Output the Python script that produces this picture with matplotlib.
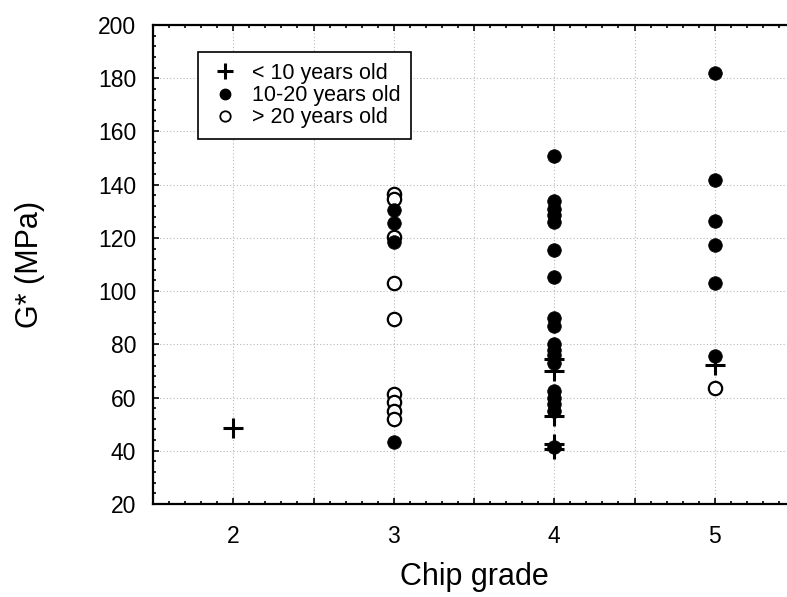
import matplotlib.pyplot as plt
from matplotlib.lines import Line2D
from matplotlib.ticker import FixedLocator, MultipleLocator, FuncFormatter

plt.rcParams['font.family'] = ['Liberation Sans', 'DejaVu Sans']

# G* (MPa) per chip grade, split by age of the seal
young_grade = [2, 4, 4, 4, 4, 4, 5]
young_g = [48.7, 74.5, 70.0, 53.0, 42.5, 40.5, 72.4]

mid_grade = [3, 3, 3, 3,
             4, 4, 4, 4, 4, 4, 4, 4, 4, 4, 4, 4, 4, 4, 4, 4, 4, 4,
             5, 5, 5, 5, 5, 5]
mid_g = [130.5, 125.5, 118.6, 43.2,
         150.6, 133.7, 131.0, 128.5, 126.0, 115.6, 105.2, 89.8, 87.0,
         80.0, 78.0, 76.0, 73.0, 62.5, 60.0, 57.5, 55.0, 41.5,
         181.8, 141.9, 126.5, 117.3, 103.0, 75.8]

old_grade = [3, 3, 3, 3, 3, 3, 3, 3, 3, 5]
old_g = [136.5, 134.5, 120.2, 103.0, 89.5, 61.5, 58.2, 55.0, 52.0, 63.5]

labels = ['< 10 years old', '10-20 years old', '> 20 years old']

fig = plt.figure(figsize=(7.87, 5.97), dpi=100)
ax = fig.add_axes([153 / 787, 93 / 597, 642 / 787, 479 / 597])

ax.plot(old_grade, old_g, 'o', ms=9.6, mfc='white', mec='black', mew=1.6, ls='none', zorder=3)
ax.plot(mid_grade, mid_g, 'o', ms=9.8, mfc='black', mec='black', mew=0.5, ls='none', zorder=4)
ax.plot(young_grade, young_g, '+', ms=14.5, mec='black', mew=2.2, ls='none', zorder=5)

ax.set_xlim(1.5, 5.5)
ax.set_ylim(20, 200)

ax.xaxis.set_major_locator(FixedLocator([1.5 + 0.5 * i for i in range(9)]))
ax.xaxis.set_minor_locator(MultipleLocator(0.1))
ax.xaxis.set_major_formatter(FuncFormatter(lambda v, p: f"{v:.0f}" if abs(v - round(v)) < 1e-6 else ""))
ax.yaxis.set_major_locator(MultipleLocator(20))
ax.yaxis.set_minor_locator(MultipleLocator(4))

ax.tick_params(which='both', direction='in', top=True, right=True, width=1.2, colors='black')
ax.tick_params(which='major', length=4.5, labelsize=16.5)
ax.tick_params(axis='x', which='major', pad=15)
ax.tick_params(axis='y', which='major', pad=12)
ax.tick_params(which='minor', length=2.5)
for s in ax.spines.values():
    s.set_linewidth(1.6)

ax.grid(True, which='major', ls=(0, (1, 2)), color='#b8b8b8', lw=0.8)
ax.set_axisbelow(True)

ax.set_xlabel('Chip grade', fontsize=22, labelpad=10)
ax.set_ylabel('G* (MPa)', fontsize=22, labelpad=38)

handles = [
    Line2D([], [], marker='+', ls='none', ms=12, mec='black', mew=2.2),
    Line2D([], [], marker='o', ls='none', ms=7.5, mfc='black', mec='black'),
    Line2D([], [], marker='o', ls='none', ms=7.5, mfc='white', mec='black', mew=1.3),
]
leg = ax.legend(handles, labels, loc='upper left', bbox_to_anchor=(0.070, 0.9436),
                fontsize=15.5, frameon=True, fancybox=False, edgecolor='black',
                framealpha=1, borderpad=0.5, labelspacing=0.06, handlelength=1.5,
                handletextpad=0.5, borderaxespad=0)
leg.get_frame().set_linewidth(1.2)

fig.savefig('out.png', dpi=100)
